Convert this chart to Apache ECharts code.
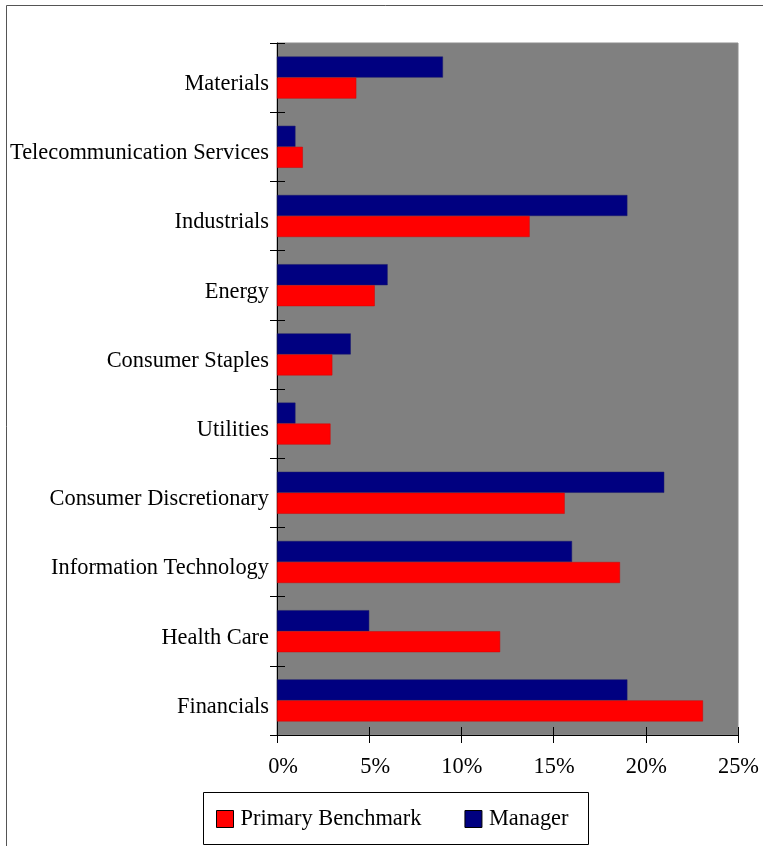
<!DOCTYPE html>
<html>
<head>
<meta charset="utf-8">
<script src="https://cdn.jsdelivr.net/npm/echarts@6/dist/echarts.min.js"></script>
<style>html,body{margin:0;padding:0;background:#fff}#c{width:763px;height:846px}</style>
</head>
<body>
<div id="c"></div>
<script>
const categories = ['Financials','Health Care','Information Technology','Consumer Discretionary','Utilities','Consumer Staples','Energy','Industrials','Telecommunication Services','Materials'];
const benchmark = [23.1, 12.1, 18.6, 15.6, 2.9, 3.0, 5.3, 13.7, 1.4, 4.3];
const manager = [19.0, 5.0, 16.0, 21.0, 1.0, 4.0, 6.0, 19.0, 1.0, 9.0];
const xTicks = [0, 5, 10, 15, 20, 25];

const font = '"Liberation Serif", "Times New Roman", serif';
const chart = echarts.init(document.getElementById('c'), null, {renderer: 'canvas'});
const xBase = {type: 'value', min: xTicks[0], max: xTicks[xTicks.length - 1], interval: 5, splitLine: {show: false}};
chart.setOption({
  animation: false,
  backgroundColor: '#fff',
  graphic: [
    {type: 'rect', shape: {x: 6.5, y: 5.5, width: 800, height: 900}, style: {fill: 'none', stroke: '#555', lineWidth: 1}, z: 0},
    {type: 'rect', shape: {x: 203.5, y: 792.5, width: 385, height: 52}, style: {fill: '#fff', stroke: '#000', lineWidth: 1}, z: 0}
  ],
  grid: {left: 277, top: 43, right: 25, bottom: 111, show: true, backgroundColor: '#808080', borderColor: '#8c8c8c', borderWidth: 1},
  legend: {
    data: ['Primary Benchmark', 'Manager'],
    left: 211, top: 803, itemWidth: 17, itemHeight: 17, itemGap: 43,
    icon: 'rect',
    textStyle: {fontFamily: font, fontSize: 22.4, color: '#000', padding: [0, 0, 0, 2]},
    itemStyle: {borderColor: '#000', borderWidth: 1}
  },
  xAxis: [
    Object.assign({}, xBase, {
      position: 'bottom',
      axisLine: {show: true, lineStyle: {color: '#000', width: 1}},
      axisTick: {show: true, length: 8, lineStyle: {color: '#000'}},
      axisLabel: {
        margin: 21, align: 'left',
        formatter: v => '{a|' + v + '%}',
        rich: {a: {fontFamily: font, fontSize: 22.4, color: '#000', width: 21, align: 'right'}}
      }
    }),
    Object.assign({}, xBase, {
      position: 'bottom',
      axisLine: {show: false},
      axisTick: {show: true, inside: true, length: 8, lineStyle: {color: '#000'}},
      axisLabel: {show: false}
    })
  ],
  yAxis: [
    {
      type: 'category', data: categories,
      axisLine: {show: true, lineStyle: {color: '#000', width: 1}},
      axisTick: {show: true, length: 7, inside: false, lineStyle: {color: '#000'}},
      axisLabel: {
        margin: 8,
        formatter: v => '{a|' + v + '}',
        rich: {a: {fontFamily: font, fontSize: 22.4, color: '#000', padding: [13, 0, 0, 0]}}
      }
    },
    {
      type: 'category', data: categories, position: 'left',
      axisLine: {show: false},
      axisTick: {show: true, length: 8, inside: true, lineStyle: {color: '#000'}},
      axisLabel: {show: false}
    }
  ],
  series: [
    {name: 'Manager', type: 'bar', data: manager, barWidth: 21, barGap: '0%', xAxisIndex: 0, yAxisIndex: 0,
     itemStyle: {color: '#000080', borderColor: '#1a1a6a', borderWidth: 0.5}},
    {name: 'Primary Benchmark', type: 'bar', data: benchmark, barWidth: 21, barGap: '0%', xAxisIndex: 0, yAxisIndex: 0,
     itemStyle: {color: '#ff0000', borderColor: '#d00000', borderWidth: 0.5}}
  ]
});
</script>
</body>
</html>
